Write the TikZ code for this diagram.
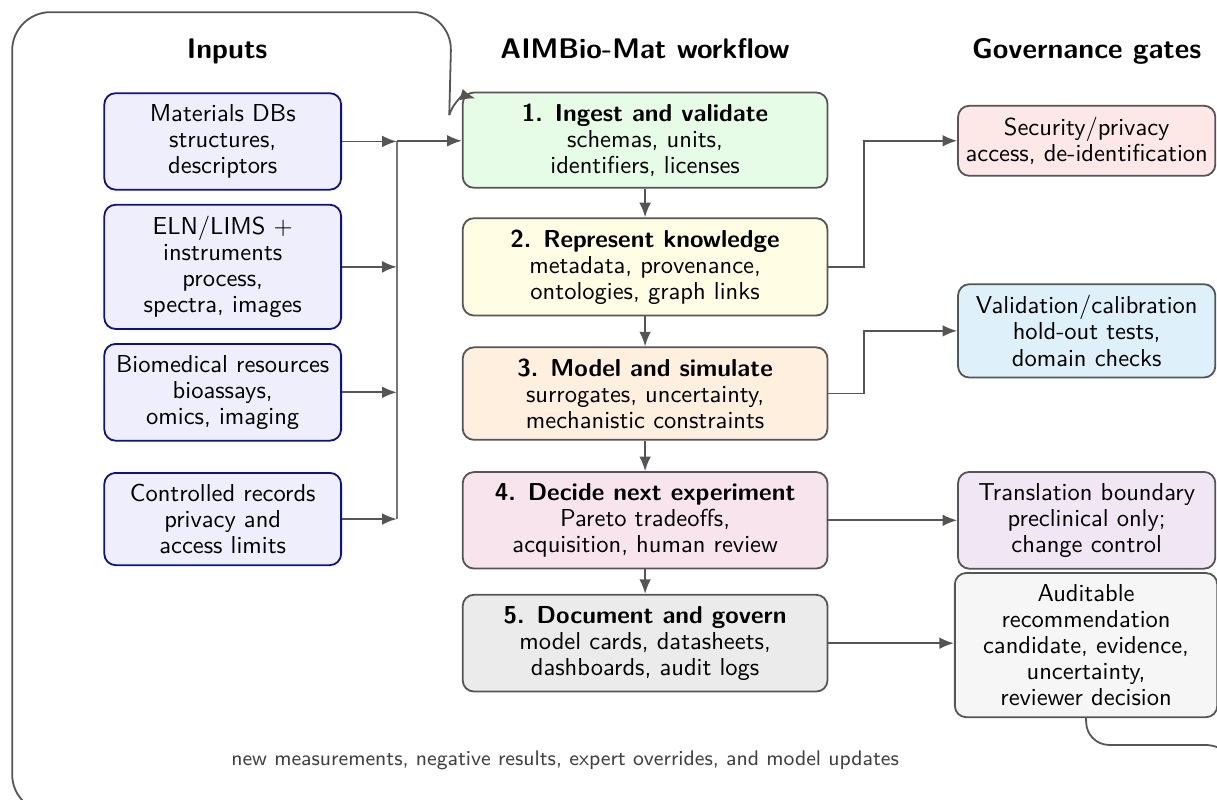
\documentclass[tikz,border=0pt]{standalone}
\usepackage{tikz}
\usetikzlibrary{arrows.meta}
\renewcommand{\familydefault}{\sfdefault}
\definecolor{edgegray}{HTML}{555555}
\definecolor{inblue}{HTML}{10108C}
\definecolor{infill}{HTML}{EEEEFC}
\definecolor{ingestfill}{HTML}{E6FCE6}
\definecolor{knowfill}{HTML}{FFFDE3}
\definecolor{modelfill}{HTML}{FFEFDF}
\definecolor{decidefill}{HTML}{F8E4EC}
\definecolor{docfill}{HTML}{EBEBEB}
\definecolor{secfill}{HTML}{FDE7E7}
\definecolor{valfill}{HTML}{DEF0FA}
\definecolor{trafill}{HTML}{F1E6F4}
\definecolor{audfill}{HTML}{F6F6F6}
\tikzset{
  every node/.style={font=\fontsize{10.9}{11.6}\selectfont},
  inbox/.style={draw=inblue, fill=infill, thick, rounded corners=5pt, align=center, inner xsep=3pt, inner ysep=5pt, minimum width=3.70cm},
  wfbox/.style={draw=edgegray, thick, rounded corners=5pt, align=center, inner xsep=3pt, inner ysep=5pt, minimum width=5.70cm},
  gatebox/.style={draw=edgegray, thick, rounded corners=5pt, align=center, inner xsep=2pt, inner ysep=5pt, minimum width=4.02cm},
  arr/.style={-{Latex[length=6.5pt,width=5.2pt]}, thick, draw=edgegray},
  loopline/.style={thick, draw=edgegray},
  busline/.style={thick, draw=edgegray!80},
  head/.style={font=\fontsize{12.6}{15}\selectfont\bfseries, anchor=base},
  loopnote/.style={font=\fontsize{9.4}{11}\selectfont, text=black!75},
}
\begin{document}
\begin{tikzpicture}
\useasboundingbox (0,0) rectangle (19.016,-12.5);
% column heads
\node[head] (hin) at (3.55,-0.92) {Inputs};
\node[head] (hwf) at (10.08,-0.92) {AIMBio-Mat workflow};
\node[head] (hgov) at (16.98,-0.92) {Governance gates};
% inputs
\node[inbox] (mat) at (3.48,-2.21) {Materials DBs\\structures,\\descriptors};
\node[inbox] (eln) at (3.48,-4.17) {ELN/LIMS $+$\\instruments\\process,\\spectra, images};
\node[inbox] (bio) at (3.48,-6.13) {Biomedical resources\\bioassays,\\omics, imaging};
\node[inbox] (ctl) at (3.48,-8.11) {Controlled records\\privacy and\\access limits};
% workflow
\node[wfbox, fill=ingestfill] (ingest) at (10.08,-2.19) {\textbf{1. Ingest and validate}\\schemas, units,\\identifiers, licenses};
\node[wfbox, fill=knowfill] (know) at (10.08,-4.17) {\textbf{2. Represent knowledge}\\metadata, provenance,\\ontologies, graph links};
\node[wfbox, fill=modelfill] (model) at (10.08,-6.15) {\textbf{3. Model and simulate}\\surrogates, uncertainty,\\mechanistic constraints};
\node[wfbox, fill=decidefill] (decide) at (10.08,-8.13) {\textbf{4. Decide next experiment}\\Pareto tradeoffs,\\acquisition, human review};
\node[wfbox, fill=docfill] (doc) at (10.08,-10.05) {\textbf{5. Document and govern}\\model cards, datasheets,\\dashboards, audit logs};
% gates
\node[gatebox, fill=secfill] (sec) at (16.98,-2.20) {Security/privacy\\access, de-identification};
\node[gatebox, fill=valfill] (val) at (16.98,-5.17) {Validation/calibration\\hold-out tests,\\domain checks};
\node[gatebox, fill=trafill] (tra) at (16.98,-8.13) {Translation boundary\\preclinical only;\\change control};
\node[gatebox, fill=audfill, minimum width=4.1cm] (aud) at (16.97,-10.08) {Auditable\\recommendation\\candidate, evidence,\\uncertainty,\\reviewer decision};
% input bus
\coordinate (bustop) at (6.20,-2.20);
\coordinate (busbot) at (6.20,-8.11);
\draw[busline] (bustop) -- (busbot);
\draw[arr] (mat.east) -- (mat.east -| bustop);
\draw[arr] (eln.east) -- (eln.east -| bustop);
\draw[arr] (bio.east) -- (bio.east -| bustop);
\draw[arr] (ctl.east) -- (ctl.east -| bustop);
\draw[arr] (bustop) -- (bustop -| ingest.west);
% workflow chain
\draw[arr] (ingest) -- (know);
\draw[arr] (know) -- (model);
\draw[arr] (model) -- (decide);
\draw[arr] (decide) -- (doc);
% gates
\draw[arr] (know.east) -- ++(0.55,0) |- (sec.west);
\draw[arr] (model.east) -- ++(0.55,0) |- (val.west);
\draw[arr] (decide.east) -- (tra.west);
\draw[arr] (doc.east) -- (doc.east -| aud.west);
% feedback loop
\coordinate (loopend) at (7.02,-1.8);
\draw[loopline, rounded corners=0.35cm] (aud.south) -- (16.98,-11.64) [rounded corners=0.6cm] -- (19.42,-11.64) -- (19.42,-12.7) -- (0.19,-12.7) -- (0.19,-0.19) -- (7.06,-0.19) -- (loopend);
\draw[arr] (loopend) to[out=75,in=165] ([xshift=6pt,yshift=-3pt]ingest.north west);
\node[loopnote] (note) at (8.83,-11.875) {new measurements, negative results, expert overrides, and model updates};
\end{tikzpicture}
\end{document}
